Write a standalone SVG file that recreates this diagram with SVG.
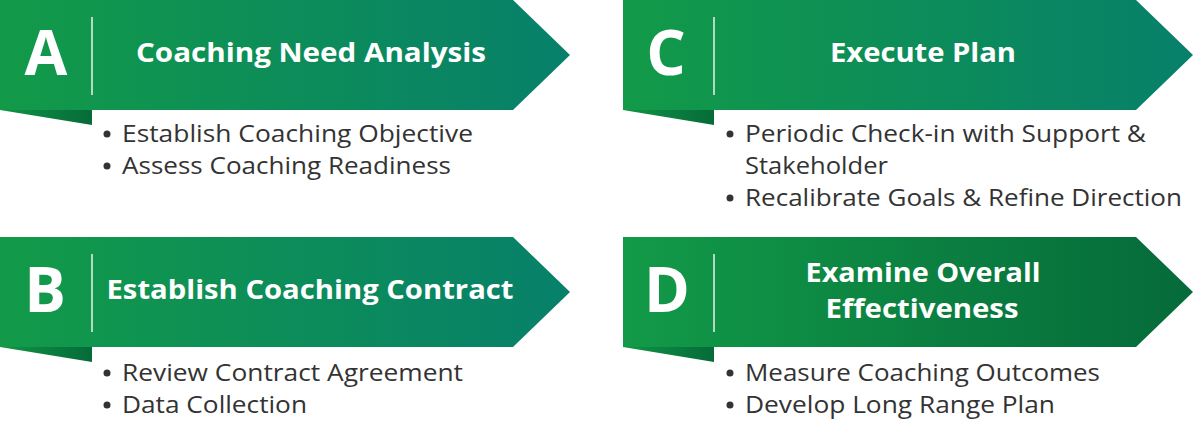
<svg xmlns="http://www.w3.org/2000/svg" width="1194" height="426" viewBox="0 0 1194 426">
<defs>
<linearGradient id="gTeal" x1="0" y1="0" x2="1" y2="0">
<stop offset="0" stop-color="#129a48"/><stop offset="1" stop-color="#07806a"/>
</linearGradient>
<linearGradient id="gDark" x1="0" y1="0" x2="1" y2="0">
<stop offset="0" stop-color="#129a48"/><stop offset="1" stop-color="#056a3a"/>
</linearGradient>
<linearGradient id="gFlap" x1="0" y1="0" x2="1" y2="0">
<stop offset="0" stop-color="#109447"/><stop offset="1" stop-color="#066b38"/>
</linearGradient>
<style>
.letter{font-family:"Open Sans","Liberation Sans",sans-serif;font-weight:bold;font-size:62px;fill:#fff;text-anchor:middle}
.title{font-family:"Open Sans","Liberation Sans",sans-serif;font-weight:bold;font-size:27px;fill:#fff;text-anchor:middle}
.item{font-family:"Open Sans","Liberation Sans",sans-serif;font-size:23px;fill:#333}
.dot{fill:#333}
.div{stroke:#e8f2ea;stroke-width:1.5}
</style>
</defs>
<g id="nodeA">
<polygon points="0,110 92,110 92,125" fill="url(#gFlap)"/>
<polygon points="0,0 513,0 570,55 513,110 0,110" fill="url(#gTeal)"/>
<line class="div" x1="92" y1="17" x2="92" y2="95"/>
<text class="letter" x="46" y="75">A</text>
<text class="title" x="311" y="62" textLength="350" lengthAdjust="spacingAndGlyphs">Coaching Need Analysis</text>
<circle class="dot" cx="107" cy="134" r="3.5"/>
<text class="item" x="122" y="142" textLength="351" lengthAdjust="spacingAndGlyphs">Establish Coaching Objective</text>
<circle class="dot" cx="107" cy="166" r="3.5"/>
<text class="item" x="122" y="174" textLength="329" lengthAdjust="spacingAndGlyphs">Assess Coaching Readiness</text>
</g>
<g id="nodeB">
<polygon points="0,347 92,347 92,362" fill="url(#gFlap)"/>
<polygon points="0,237 513,237 570,292 513,347 0,347" fill="url(#gTeal)"/>
<line class="div" x1="92" y1="254" x2="92" y2="332"/>
<text class="letter" x="45" y="312">B</text>
<text class="title" x="310" y="299" textLength="407" lengthAdjust="spacingAndGlyphs">Establish Coaching Contract</text>
<circle class="dot" cx="107" cy="373" r="3.5"/>
<text class="item" x="122" y="381" textLength="341" lengthAdjust="spacingAndGlyphs">Review Contract Agreement</text>
<circle class="dot" cx="107" cy="405" r="3.5"/>
<text class="item" x="122" y="413" textLength="185" lengthAdjust="spacingAndGlyphs">Data Collection</text>
</g>
<g id="nodeC">
<polygon points="623,110 714,110 714,125" fill="url(#gFlap)"/>
<polygon points="623,0 1136,0 1193,55 1136,110 623,110" fill="url(#gTeal)"/>
<line class="div" x1="714" y1="17" x2="714" y2="95"/>
<text class="letter" x="666" y="75">C</text>
<text class="title" x="923" y="62" textLength="186" lengthAdjust="spacingAndGlyphs">Execute Plan</text>
<circle class="dot" cx="730" cy="134" r="3.5"/>
<text class="item" x="745" y="142" textLength="401" lengthAdjust="spacingAndGlyphs">Periodic Check-in with Support &amp;</text>
<text class="item" x="745" y="174" textLength="143" lengthAdjust="spacingAndGlyphs">Stakeholder</text>
<circle class="dot" cx="730" cy="198" r="3.5"/>
<text class="item" x="745" y="206" textLength="437" lengthAdjust="spacingAndGlyphs">Recalibrate Goals &amp; Refine Direction</text>
</g>
<g id="nodeD">
<polygon points="623,347 714,347 714,362" fill="url(#gFlap)"/>
<polygon points="623,237 1136,237 1193,292 1136,347 623,347" fill="url(#gDark)"/>
<line class="div" x1="714" y1="254" x2="714" y2="332"/>
<text class="letter" x="667" y="312">D</text>
<text class="title" x="923" y="282" textLength="235" lengthAdjust="spacingAndGlyphs">Examine Overall</text>
<text class="title" x="922" y="318" textLength="193" lengthAdjust="spacingAndGlyphs">Effectiveness</text>
<circle class="dot" cx="730" cy="373" r="3.5"/>
<text class="item" x="745" y="381" textLength="355" lengthAdjust="spacingAndGlyphs">Measure Coaching Outcomes</text>
<circle class="dot" cx="730" cy="405" r="3.5"/>
<text class="item" x="745" y="413" textLength="310" lengthAdjust="spacingAndGlyphs">Develop Long Range Plan</text>
</g>
<g id="connectors"/>
</svg>
